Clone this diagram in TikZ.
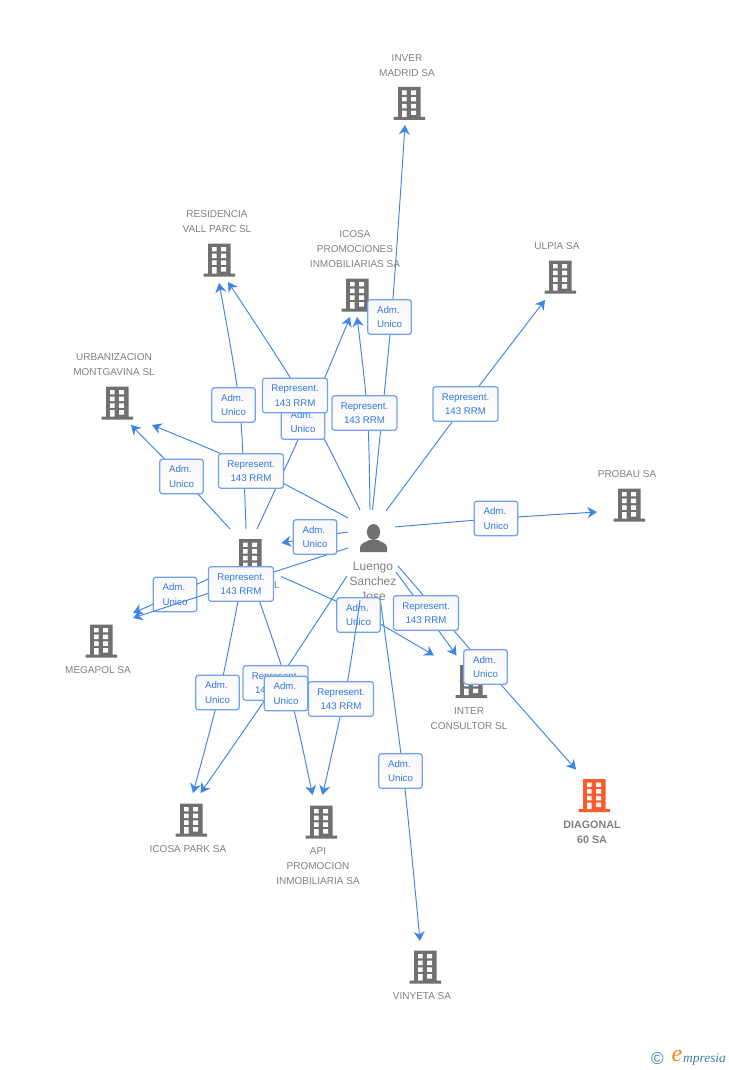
\documentclass[tikz,border=0pt]{standalone}
\usepackage{fontspec}
\setmainfont{Liberation Sans}
\newfontfamily\logofont{Liberation Serif}
\usetikzlibrary{arrows.meta,shapes.geometric}
\definecolor{edgeblue}{HTML}{3F85E6}
\definecolor{boxline}{HTML}{6FA3EE}
\definecolor{boxtext}{HTML}{3278DC}
\definecolor{greytxt}{HTML}{808080}
\definecolor{iconfill}{HTML}{707070}
\definecolor{hotfill}{HTML}{FF5A2E}
\definecolor{logoteal}{HTML}{3F7F96}
\definecolor{logoorange}{HTML}{F08A1E}
\pgfdeclarelayer{paper}\pgfdeclarelayer{edgelayer}\pgfdeclarelayer{lowbox}\pgfdeclarelayer{overlines}
\pgfsetlayers{paper,edgelayer,lowbox,overlines,main}
\tikzset{
  x=1pt,y=-1pt,
  edge/.style={draw=edgeblue,line width=0.95pt,-{Stealth[length=9.5pt,width=11pt,inset=3pt]}},
  boxbase/.style={draw=boxline,line width=1.25pt,rounded corners=2.6pt,top color=black!3,bottom color=white,
    text=boxtext,font=\fontsize{9.7}{14.5}\selectfont,minimum height=34.5pt,inner sep=0pt},
  admbox/.style={boxbase,minimum width=43.5pt,align=left},
  repbox/.style={boxbase,minimum width=65pt,align=center},
  lab/.style={text=greytxt,font=\fontsize{10}{15}\selectfont,align=center,inner sep=0pt},
  hotlab/.style={text=greytxt,font=\fontsize{10.7}{15}\selectfont\bfseries,align=center,inner sep=0pt},
  perslab/.style={text=greytxt,font=\fontsize{12}{15}\selectfont,align=center,inner sep=0pt},
  anchorbox/.style={minimum width=32pt,minimum height=33pt,inner sep=0pt},
}
\newcommand{\bld}[4]{%
  \node[anchorbox] (#1) at (#2,#3) {};
  \begin{scope}[shift={(#2,#3)}]
    \fill[#4] (-11,-16.5) rectangle (11.5,14) (-15.5,13.5) rectangle (16,16.5);
    \fill[white] (-7,-13) rectangle (-2.5,-8.7) (2.2,-13) rectangle (7,-8.7)
      (-7,-6.3) rectangle (-2.5,-2) (2.2,-6.3) rectangle (7,-2)
      (-7,0.4) rectangle (-2.5,4.8) (2.2,0.4) rectangle (7,4.8)
      (-7,7.2) rectangle (-2.5,13.5) (2.2,7.2) rectangle (7,11.5);
  \end{scope}}
\begin{document}
\begin{tikzpicture}
\useasboundingbox (0,0) rectangle (728,1070);
\begin{pgfonlayer}{paper}
\fill[white] (0,0) rectangle (728,1070);
\end{pgfonlayer}
% buildings
\bld{inver}{409}{103.5}{iconfill}
\bld{resid}{219}{260}{iconfill}
\bld{icosap}{357}{295}{iconfill}
\bld{ulpia}{560}{277}{iconfill}
\bld{urban}{117}{403}{iconfill}
\bld{probau}{629}{505}{iconfill}
\bld{central}{250}{555.5}{iconfill}
\bld{megapol}{101}{641}{iconfill}
\bld{icosapark}{191}{820}{iconfill}
\bld{api}{321}{822}{iconfill}
\bld{vinyeta}{425}{967}{iconfill}
\bld{inter}{471}{681.5}{iconfill}
\bld{diagonal}{594}{795.5}{hotfill}
% person
\node[anchorbox,minimum width=28pt,minimum height=28pt] (P) at (373,538) {};
\fill[iconfill] (373.5,532) ellipse (6.6pt and 8pt);
\fill[iconfill] (360,552) -- (360,547.5) .. controls (360,543) and (366,542.5) .. (369,540)
  -- (378,540) .. controls (381,542.5) and (387,543) .. (387,547.5) -- (387,552) -- cycle;
% labels
\node[lab] (linver) at (407,65.5) {INVER\\MADRID SA};
\node[lab] (lresid) at (217,221.5) {RESIDENCIA\\VALL PARC SL};
\node[lab] (licosap) at (355,249.5) {ICOSA\\PROMOCIONES\\INMOBILIARIAS SA};
\node[lab] (lulpia) at (557,246) {ULPIA SA};
\node[lab] (lurban) at (114,364.5) {URBANIZACION\\MONTGAVINA SL};
\node[lab] (lprobau) at (627,474) {PROBAU SA};
\node[lab] (lmega) at (98,670) {MEGAPOL SA};
\node[lab] (lpark) at (188,849) {ICOSA PARK SA};
\node[lab] (lapi) at (318,866) {API\\PROMOCION\\INMOBILIARIA SA};
\node[lab] (lviny) at (422,996) {VINYETA SA};
\node[lab] (linter) at (469,718.5) {INTER\\CONSULTOR SL};
\node[hotlab] (ldiag) at (592,832.5) {DIAGONAL\\60 SA};
\node[lab] (lcentral) at (277,585) {L};
% logo
\node[inner sep=0pt,text=logoteal,font=\fontsize{17}{17}\selectfont] (lcopy) at (657.5,1058.5) {©};
\node[inner sep=0pt,text=logoorange,font=\logofont\itshape\fontsize{24}{24}\selectfont] (lelogo) at (677,1056) {e};
\node[inner sep=0pt,anchor=west,text=logoteal,font=\logofont\itshape\fontsize{13.4}{13.4}\selectfont] (lmp) at (683,1059.5) {mpresia};
% boxes
\begin{pgfonlayer}{lowbox}
\node[admbox] (b175) at (175,594.5) {Adm.\\Unico};
\node[admbox] (b358) at (358.5,615) {Adm.\\Unico};
\end{pgfonlayer}
\node[admbox] (b389) at (389.5,317) {Adm.\\Unico};
\node[admbox] (b303) at (303,422) {Adm.\\Unico};
\node[repbox] (b295) at (295,395.5) {Represent.\\143 RRM};
\node[repbox] (b364) at (364.5,413) {Represent.\\143 RRM};
\node[repbox] (b465) at (465.5,404) {Represent.\\143 RRM};
\node[admbox] (b233) at (233.5,405) {Adm.\\Unico};
\node[admbox] (b181) at (181.5,476.5) {Adm.\\Unico};
\node[repbox] (b251) at (251,471) {Represent.\\143 RRM};
\node[admbox] (b495) at (496,518.5) {Adm.\\Unico};
\node[admbox] (b315) at (315,537) {Adm.\\Unico};
\node[repbox] (b241) at (241,584) {Represent.\\143 RRM};
\node[repbox] (b426) at (426,613) {Represent.\\143 RRM};
\node[admbox] (b485) at (485.5,667) {Adm.\\Unico};
\node[repbox] (b275) at (275.5,683) {Represent.\\143 RRM};
\node[admbox] (b286) at (286,693.5) {Adm.\\Unico};
\node[repbox] (b341) at (341,699) {Represent.\\143 RRM};
\node[admbox] (b217) at (217.5,692.5) {Adm.\\Unico};
\node[admbox] (b400) at (400.5,771) {Adm.\\Unico};
% edges under the boxes
\begin{pgfonlayer}{edgelayer}
\draw[edge] plot[smooth,tension=.5] coordinates {([shift={(-0.5,-28)}]P.center) ([shift={(2,0)}]b389.center) ([shift={(-4,21.5)}]inver.center)};
\draw[edge] plot[smooth,tension=.5] coordinates {([shift={(-3,-28)}]P.center) ([shift={(3,0)}]b364.center) ([shift={(0,22)}]icosap.center)};
\draw[edge] plot[smooth,tension=.5] coordinates {([shift={(13,-27)}]P.center) (b465.center) ([shift={(-15,23)}]ulpia.center)};
\draw[edge] plot[smooth,tension=.5] coordinates {([shift={(22,-11)}]P.center) (b495.center) ([shift={(-32,7)}]probau.center)};
\draw[edge] plot[smooth,tension=.5] coordinates {([shift={(-13,-28)}]P.center) ([shift={(6,0)}]b295.center) ([shift={(9,22)}]resid.center)};
\draw[edge] plot[smooth,tension=.5] coordinates {([shift={(-25,-20)}]P.center) ([shift={(0,-4)}]b251.center) ([shift={(35,22)}]urban.center)};
\draw[edge] plot[smooth,tension=.5] coordinates {([shift={(-25,-6)}]P.center) (b315.center) ([shift={(31.5,-12.5)}]central.center)};
\draw[edge] plot[smooth,tension=.5] coordinates {([shift={(-26,38)}]P.center) ([shift={(1,0)}]b275.center) ([shift={(9.5,-27)}]icosapark.center)};
\draw[edge] plot[smooth,tension=.5] coordinates {([shift={(7,60)}]P.center) ([shift={(2.5,0)}]b400.center) ([shift={(-5,-26)}]vinyeta.center)};
\draw[edge] plot[smooth,tension=.5] coordinates {([shift={(23,34)}]P.center) (b426.center) ([shift={(-14.5,-26)}]inter.center)};
\draw[edge] plot[smooth,tension=.5] coordinates {([shift={(25,28)}]P.center) (b485.center) ([shift={(-18,-26)}]diagonal.center)};
\draw[edge] plot[smooth,tension=.5] coordinates {([shift={(31,21)}]central.center) ([shift={(0,-3)}]b358.center) ([shift={(-37,-26)}]inter.center)};
\draw[edge] plot[smooth,tension=.5] coordinates {([shift={(-4,-26.5)}]central.center) ([shift={(6,0)}]b233.center) ([shift={(0,23)}]resid.center)};
\draw[edge] plot[smooth,tension=.5] coordinates {([shift={(7,-26.5)}]central.center) ([shift={(3,0)}]b303.center) ([shift={(-7,22)}]icosap.center)};
\draw[edge] plot[smooth,tension=.5] coordinates {([shift={(-20,-26.5)}]central.center) (b181.center) ([shift={(14,22)}]urban.center)};
\draw[edge] plot[smooth,tension=.5] coordinates {([shift={(-25,15.5)}]central.center) (b175.center) ([shift={(32,-28)}]megapol.center)};
\draw[edge] plot[smooth,tension=.5] coordinates {([shift={(-9,30)}]central.center) ([shift={(2,0)}]b217.center) ([shift={(2,-27)}]icosapark.center)};
\draw[edge] plot[smooth,tension=.5] coordinates {([shift={(4,30)}]central.center) ([shift={(3,-3)}]b286.center) ([shift={(-8.5,-27)}]api.center)};
% the person's name lies under the box that partly covers it
\node[perslab] (lpers) at (373,581) {Luengo\\Sanchez\\Jose};
\end{pgfonlayer}
% edges drawn over the lower boxes
\begin{pgfonlayer}{overlines}
\draw[edge] plot[smooth,tension=.5] coordinates {([shift={(-25,10)}]P.center) ([shift={(-1,-1)}]b241.center) ([shift={(32,-23)}]megapol.center)};
\draw[edge] plot[smooth,tension=.5] coordinates {([shift={(-13,62)}]P.center) ([shift={(6,-15)}]b341.center) ([shift={(1.5,-27)}]api.center)};
\end{pgfonlayer}
\end{tikzpicture}
\end{document}
